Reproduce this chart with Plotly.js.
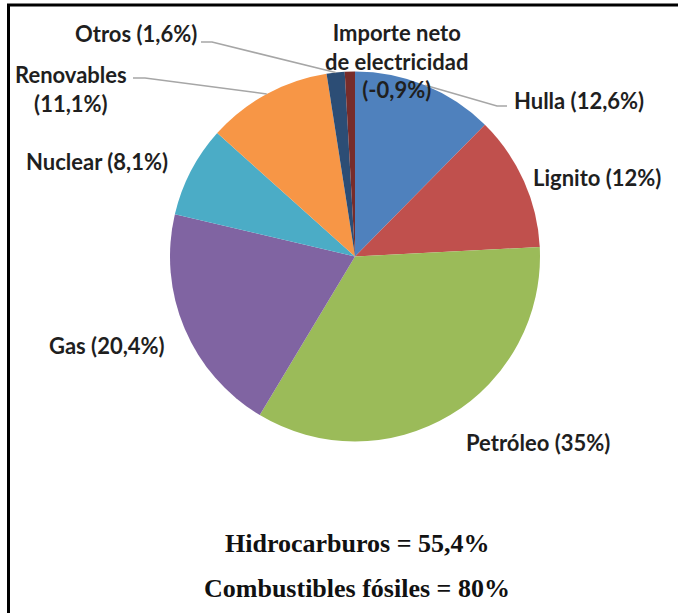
<!DOCTYPE html>
<html>
<head>
<meta charset="utf-8">
<script src="https://cdn.plot.ly/plotly-3.0.1.min.js"></script>
<style>html,body{margin:0;padding:0;background:#fff;}#chart{width:678px;height:613px;}</style>
</head>
<body>
<div id="chart"></div>
<script>
// ---- data ----
const categories = ["Hulla", "Lignito", "Petróleo", "Gas", "Nuclear", "Renovables", "Otros", "Importe neto de electricidad"];
const shares = [12.6, 12, 35, 20.4, 8.1, 11.1, 1.6, -0.9];
const labelTexts = ["Hulla (12,6%)", "Lignito (12%)", "Petróleo (35%)", "Gas (20,4%)", "Nuclear (8,1%)", "Renovables<br>(11,1%)", "Otros (1,6%)", "Importe neto<br>de electricidad<br>(-0,9%)"];
const sliceColors = ["#4F81BD", "#C0504D", "#9BBB59", "#8064A2", "#4BACC6", "#F79646", "#2C4D75", "#772C2A"];
const summaryLines = ["Hidrocarburos = 55,4%", "Combustibles fósiles = 80%"];

// ---- layout geometry (pixels) ----
const W = 678, H = 613;
const cx = 355, cy = 256.5, R = 185;
const px = x => x / W;
const py = y => 1 - y / H;

// label centres and leader-line endpoints (layout, px)
const labelPos = [
  {x: 512, y: 101, anchor: "left", line: [[507, 106], [497, 106]]},
  {x: 597, y: 177, anchor: "center"},
  {x: 538, y: 442, anchor: "center"},
  {x: 107, y: 345, anchor: "center"},
  {x: 97, y: 161, anchor: "center"},
  {x: 71, y: 89, anchor: "center", line: [[133, 78], [145, 78]]},
  {x: 136, y: 33, anchor: "center", line: [[201, 42], [212, 42]]},
  {x: 396, y: 61, anchor: "center"}
];

const vals = shares.map(v => Math.abs(v));
const total = vals.reduce((a, b) => a + b, 0);

const annotations = [];
const shapes = [];
let cum = 0;
vals.forEach((v, i) => {
  const mid = (cum + v / 2) / total * 2 * Math.PI;
  cum += v;
  const L = labelPos[i];
  annotations.push({
    xref: "paper", yref: "paper", x: px(L.x), y: py(L.y),
    xanchor: L.anchor, yanchor: "middle", showarrow: false, align: "center",
    text: "<b>" + labelTexts[i] + "</b>",
    font: {family: "Lato, 'Open Sans', sans-serif", size: 22, color: "#1F1F1F"}
  });
  if (L.line) {
    const ex = cx + R * Math.sin(mid), ey = cy - R * Math.cos(mid);
    const pts = [L.line[0], L.line[1], [ex, ey]];
    const d = "M" + pts.map(p => px(p[0]) + "," + py(p[1])).join(" L");
    shapes.push({type: "path", xref: "paper", yref: "paper", path: d,
      line: {color: "#A6A6A6", width: 1.5}});
  }
});

summaryLines.forEach((t, i) => {
  annotations.push({
    xref: "paper", yref: "paper", x: px(357), y: py(543 + i * 45),
    xanchor: "center", yanchor: "middle", showarrow: false,
    text: "<b>" + t + "</b>",
    font: {family: "'Liberation Serif', 'DejaVu Serif', serif", size: 26, color: "#111111"}
  });
});

// frame
shapes.push({type: "line", xref: "paper", yref: "paper", x0: px(7), x1: 1, y0: py(5), y1: py(5), line: {color: "#000", width: 3}});
shapes.push({type: "line", xref: "paper", yref: "paper", x0: px(8.5), x1: px(8.5), y0: py(4), y1: 0, line: {color: "#000", width: 3}});

const trace = {
  type: "pie",
  labels: categories,
  values: vals,
  marker: {colors: sliceColors, line: {width: 0}},
  sort: false,
  direction: "clockwise",
  rotation: 0,
  textinfo: "none",
  hoverinfo: "label+percent",
  domain: {x: [px(cx - R), px(cx + R)], y: [py(cy + R), py(cy - R)]}
};

const layout = {
  width: W, height: H,
  margin: {l: 0, r: 0, t: 0, b: 0},
  showlegend: false,
  paper_bgcolor: "#fff",
  annotations: annotations,
  shapes: shapes
};

Plotly.newPlot("chart", [trace], layout, {displayModeBar: false, staticPlot: true});
</script>
</body>
</html>
